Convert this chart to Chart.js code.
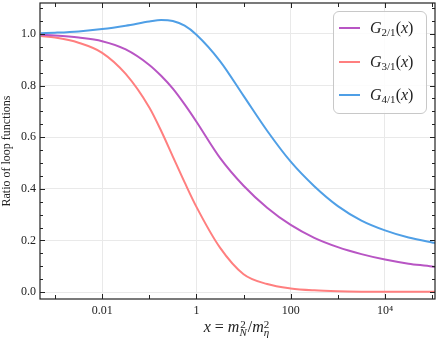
<!DOCTYPE html>
<html>
<head>
<meta charset="utf-8">
<script src="https://cdn.jsdelivr.net/npm/chart.js@4.4.0/dist/chart.umd.min.js"></script>
<style>
    body { margin: 0; background: #fff; }
    #wrap { position: relative; width: 436px; height: 348px; }
    #legenda {
        position: absolute; left: 333px; top: 11px; width: 94px; height: 103px;
        border: 1px solid #c8c8c8; border-radius: 6px; background: rgba(255,255,255,0.85);
        box-sizing: border-box; font-family: 'Liberation Serif', serif; color: #222;
    }
    .item { position: absolute; left: 0; height: 20px; display: flex; align-items: center; }
    .amostra { display: inline-block; width: 21px; height: 2px; margin-left: 5px; margin-right: 10px; }
    .rotulo { font-size: 16px; white-space: nowrap; }
    .rotulo sub { font-size: 11px; vertical-align: -3px; font-style: normal; }
    #titulo-x {
        position: absolute; left: 0; width: 474px; text-align: center; top: 318px;
        font-family: 'Liberation Serif', serif; font-size: 16px; color: #222; white-space: nowrap;
    }
    .pilha { display: inline-block; vertical-align: middle; line-height: 8px; font-size: 11px; margin-right: 1px; }
    .pilha span { display: block; }
</style>
</head>
<body>
<div id="wrap">
    <canvas id="grafico" width="436" height="348"></canvas>
    <div id="legenda">
        <div class="item" style="top:6px"><span class="amostra" style="background:#b855c4"></span><span class="rotulo"><i>G</i><sub>2/1</sub>(<i>x</i>)</span></div>
        <div class="item" style="top:40px"><span class="amostra" style="background:#ff7f7f"></span><span class="rotulo"><i>G</i><sub>3/1</sub>(<i>x</i>)</span></div>
        <div class="item" style="top:73px"><span class="amostra" style="background:#4f9fe6"></span><span class="rotulo"><i>G</i><sub>4/1</sub>(<i>x</i>)</span></div>
    </div>
    <div id="titulo-x"><i>x</i> = <i>m</i><span class="pilha"><span>2</span><span><i>N</i></span></span>/<i>m</i><span class="pilha"><span>2</span><span><i>η</i></span></span></div>
</div>
<script>
// Valores de x (m_N^2 / m_eta^2)
const xs = [0.0005, 0.001, 0.00316, 0.01, 0.0316, 0.1, 0.178, 0.316, 0.562, 1, 3.16, 10, 31.6, 100, 316, 1000, 3162, 10000, 31623, 100000, 115000];

// Razões das funções de loop
const g21 = [0.997, 0.994, 0.986, 0.972, 0.94, 0.88, 0.838, 0.788, 0.727, 0.66, 0.52, 0.412, 0.327, 0.26, 0.21, 0.174, 0.147, 0.126, 0.11, 0.099, 0.097];
const g31 = [0.992, 0.986, 0.966, 0.927, 0.845, 0.715, 0.625, 0.525, 0.425, 0.33, 0.172, 0.069, 0.031, 0.014, 0.0065, 0.003, 0.0015, 0.001, 0.001, 0.001, 0.001];
const g41 = [1.003, 1.005, 1.01, 1.019, 1.032, 1.048, 1.054, 1.05, 1.032, 0.997, 0.895, 0.76, 0.625, 0.505, 0.41, 0.333, 0.277, 0.239, 0.211, 0.192, 0.19];

// Ticks
const xTicks = [0.001, 0.01, 0.1, 1, 10, 100, 1000, 10000, 100000];
const xLabels = { 0.01: '0.01', 1: '1', 100: '100', 10000: '10⁴' };
const yTicks = [0, 0.2, 0.4, 0.6, 0.8, 1.0];
const yMinor = [0.05, 0.1, 0.15, 0.25, 0.3, 0.35, 0.45, 0.5, 0.55, 0.65, 0.7, 0.75, 0.85, 0.9, 0.95, 1.05, 1.1];

const fonte = { family: "'Liberation Serif', serif", size: 12 };

function serie(ys, cor) {
    return {
        data: xs.map((x, i) => ({ x, y: ys[i] })),
        borderColor: cor,
        borderWidth: 2,
        pointRadius: 0,
        fill: false,
        showLine: true,
        cubicInterpolationMode: 'monotone'
    };
}

// Plugin: moldura e ticks para dentro em todos os lados
const moldura = {
    id: 'moldura',
    afterDraw(chart) {
        const { ctx, chartArea: a, scales: { x, y } } = chart;
        ctx.save();
        ctx.strokeStyle = '#222';
        ctx.lineWidth = 1.2;
        ctx.strokeRect(a.left, a.top, a.right - a.left, a.bottom - a.top);
        ctx.lineWidth = 1;
        ctx.beginPath();
        xTicks.forEach(v => {
            const px = Math.round(x.getPixelForValue(v)) + 0.5;
            if (px < a.left || px > a.right) return;
            const len = xLabels[v] ? 5 : 4;
            ctx.moveTo(px, a.bottom); ctx.lineTo(px, a.bottom - len);
            ctx.moveTo(px, a.top); ctx.lineTo(px, a.top + len);
        });
        yTicks.forEach(v => {
            const py = Math.round(y.getPixelForValue(v)) + 0.5;
            ctx.moveTo(a.left, py); ctx.lineTo(a.left + 5, py);
            ctx.moveTo(a.right, py); ctx.lineTo(a.right - 5, py);
        });
        yMinor.forEach(v => {
            const py = Math.round(y.getPixelForValue(v)) + 0.5;
            ctx.moveTo(a.left, py); ctx.lineTo(a.left + 3, py);
            ctx.moveTo(a.right, py); ctx.lineTo(a.right - 3, py);
        });
        ctx.stroke();
        ctx.restore();
    }
};

const ctx = document.getElementById('grafico').getContext('2d');
new Chart(ctx, {
    type: 'scatter',
    data: {
        datasets: [
            serie(g21, '#b855c4'),
            serie(g31, '#ff7f7f'),
            serie(g41, '#4f9fe6')
        ]
    },
    options: {
        responsive: false,
        animation: false,
        layout: { padding: { top: 3, right: 1, left: 0, bottom: 0 } },
        plugins: { legend: { display: false }, tooltip: { enabled: false } },
        scales: {
            x: {
                type: 'logarithmic',
                min: 0.00048,
                max: 115000,
                afterBuildTicks: scale => { scale.ticks = xTicks.map(v => ({ value: v })); },
                afterFit: scale => { scale.height = 49; scale.paddingLeft = 0; scale.paddingRight = 0; },
                ticks: {
                    autoSkip: false,
                    maxRotation: 0,
                    padding: 5,
                    color: '#222',
                    font: fonte,
                    callback: v => xLabels[v] || ''
                },
                grid: {
                    drawTicks: false,
                    color: c => (c.tick && xLabels[c.tick.value]) ? '#e9e9e9' : 'rgba(0,0,0,0)'
                },
                border: { display: false }
            },
            y: {
                min: -0.027,
                max: 1.12,
                afterBuildTicks: scale => { scale.ticks = yTicks.map(v => ({ value: v })); },
                afterFit: scale => { scale.width = 40; scale.paddingTop = 0; scale.paddingBottom = 0; },
                ticks: {
                    padding: 4,
                    color: '#222',
                    font: fonte,
                    callback: v => v.toFixed(1)
                },
                grid: { drawTicks: false, color: '#e9e9e9' },
                border: { display: false },
                title: {
                    display: true,
                    text: 'Ratio of loop functions',
                    color: '#222',
                    font: { family: "'Liberation Serif', serif", size: 12 },
                    padding: { top: 0, bottom: 0 }
                }
            }
        }
    },
    plugins: [moldura]
});
</script>
</body>
</html>
